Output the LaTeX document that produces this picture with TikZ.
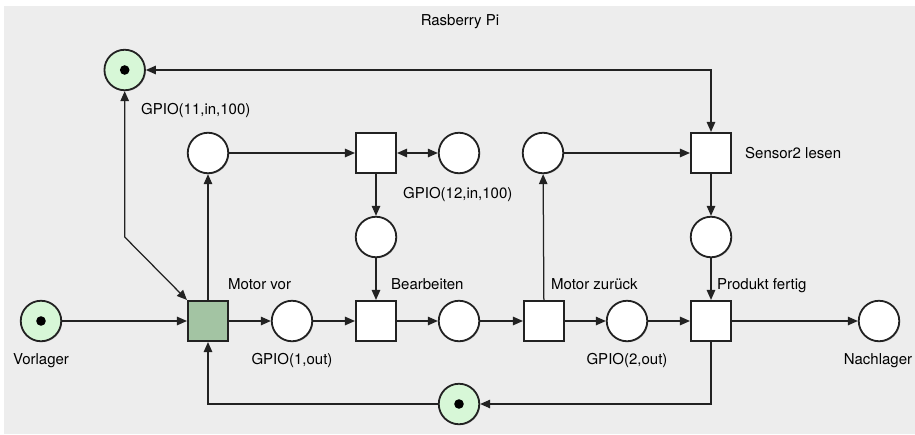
\documentclass[tikz,border=0pt]{standalone}
\usepackage{fontspec}
\setmainfont{TeX Gyre Heros}
\usetikzlibrary{arrows.meta,positioning,shadows}

\definecolor{panelgray}{HTML}{EDEDED}
\definecolor{tokengreen}{HTML}{D7F7D7}
\definecolor{firegreen}{HTML}{A3C4A3}
\definecolor{edgegray}{HTML}{222222}

\tikzset{
  place/.style={circle, draw=edgegray, line width=1.8pt, fill=white, minimum size=40.5pt, inner sep=0pt,
    drop shadow={opacity=0.35, shadow xshift=1pt, shadow yshift=-1pt}},
  marked/.style={place, fill=tokengreen},
  trans/.style={rectangle, draw=edgegray, line width=1.6pt, fill=white, minimum size=40.5pt, inner sep=0pt,
    drop shadow={opacity=0.35, shadow xshift=1pt, shadow yshift=-1pt}},
  arc/.style={draw=edgegray, line width=1.25pt, -{Triangle[length=10pt,width=8.5pt]}},
  biarc/.style={arc, {Triangle[length=10pt,width=8.5pt]}-{Triangle[length=10pt,width=8.5pt]}},
  lbl/.style={font=\fontsize{15}{18}\selectfont, inner sep=0pt, text=black}
}

\begin{document}
\begin{tikzpicture}[x=1pt, y=-1pt]
\useasboundingbox (0,0) rectangle (915,434);
\fill[panelgray] (4,6) rectangle (915,434);

% Stellen und Transitionen
\foreach \n/\x/\y in {hold1/208/153, sens2/459/153, hold2/543/153, werk/376/237, fertig/711/237,
                      out1/292/321, zwischen/459/321, out2/627/321, nachlager/879/321}
  \node[place] (\n) at (\x,\y) {};
\foreach \n/\x/\y in {sens1/124.7/70, vorlager/41/321, frei/459/404} {
  \node[marked] (\n) at (\x,\y) {};
  \fill[black] (\n) circle (4.8pt);
}
\foreach \n/\x/\y in {lesen1/376/153, bearb/376/321, motorzur/544/321, lesen2/711/153, fertigt/711/321}
  \node[trans] (\n) at (\x,\y) {};
\node[trans, fill=firegreen] (motorvor) at (208,321) {};
\coordinate (knick) at (124.7,237);

% Kanten
\draw[arc] (vorlager) -- (motorvor);
\draw[arc] (motorvor) -- (out1);
\draw[arc] (out1) -- (bearb);
\draw[arc] (bearb) -- (zwischen);
\draw[arc] (zwischen) -- (motorzur);
\draw[arc] (motorzur) -- (out2);
\draw[arc] (out2) -- (fertigt);
\draw[arc] (fertigt) -- (nachlager);
\draw[arc] (motorvor) -- (hold1);
\draw[arc] (hold1) -- (lesen1);
\draw[biarc] (lesen1) -- (sens2);
\draw[arc] (lesen1) -- (werk);
\draw[arc] (werk) -- (bearb);
\draw[arc] (motorzur) -- (hold2);
\draw[arc] (hold2) -- (lesen2);
\draw[arc] (lesen2) -- (fertig);
\draw[arc] (fertig) -- (fertigt);
\draw[biarc] (sens1) -| (lesen2);
\draw[biarc] (sens1) -- (knick) -- (motorvor.north west);
\draw[arc] (fertigt) |- (frei);
\draw[arc] (frei) -| (motorvor);

% Beschriftungen
\node[lbl, anchor=base] (titel) at (460,25) {Rasberry Pi};
\node[lbl, anchor=base west] (l11) at (141,114) {GPIO(11,in,100)};
\node[lbl, anchor=base west] (l12) at (403,198) {GPIO(12,in,100)};
\node[lbl, anchor=base west] (lsens) at (745,158) {Sensor2 lesen};
\node[lbl, anchor=base west] (lvor) at (228,289) {Motor vor};
\node[lbl, anchor=base west] (lbearb) at (391,289) {Bearbeiten};
\node[lbl, anchor=base west] (lzur) at (551,289) {Motor zurück};
\node[lbl, anchor=base west] (lfertig) at (717,289) {Produkt fertig};
\node[lbl, anchor=base] (lvorl) at (41,364) {Vorlager};
\node[lbl, anchor=base] (lout1) at (292,364) {GPIO(1,out)};
\node[lbl, anchor=base] (lout2) at (627,364) {GPIO(2,out)};
\node[lbl, anchor=base] (lnach) at (878,364) {Nachlager};
\end{tikzpicture}
\end{document}
